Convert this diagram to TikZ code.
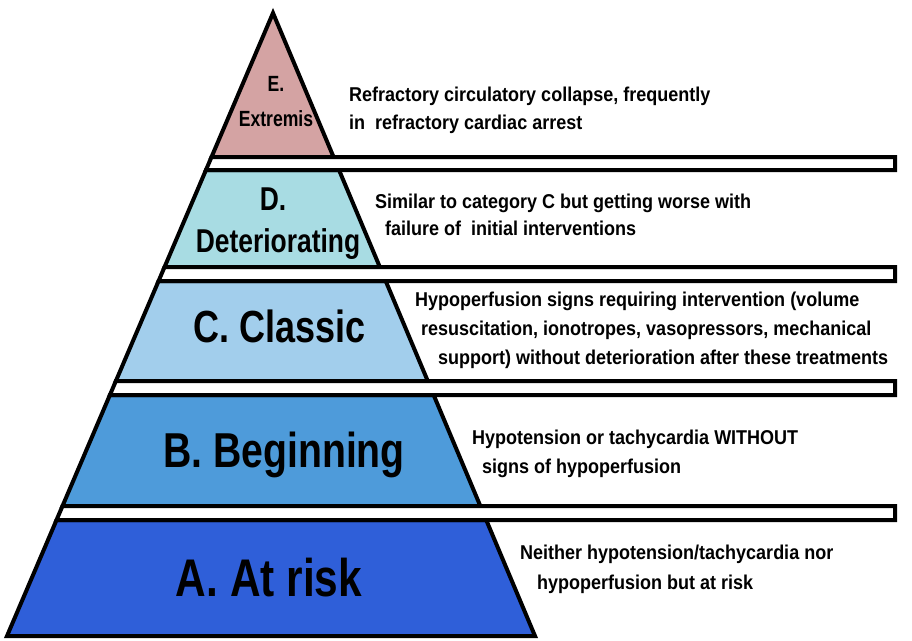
\documentclass[tikz,border=0pt]{standalone}
\usepackage{fontspec}
\setmainfont{Liberation Sans}
\newfontfamily\narrowfont[FakeStretch=0.8]{Liberation Sans}
\newfontfamily\descfont[FakeStretch=0.9]{Liberation Sans}
\usetikzlibrary{positioning}
\definecolor{extremiscolor}{HTML}{D4A3A3}
\definecolor{deterioratingcolor}{HTML}{A8DCE3}
\definecolor{classiccolor}{HTML}{A2CEEC}
\definecolor{beginningcolor}{HTML}{4E9BDA}
\definecolor{atriskcolor}{HTML}{2F5FD9}
% left and right edge of the pyramid at height y
\pgfmathdeclarefunction{lx}{1}{\pgfmathparse{273-(#1-13)/623*266}}
\pgfmathdeclarefunction{rx}{1}{\pgfmathparse{273+(#1-13)/623*262}}
\tikzset{
  layer/.style={line width=4pt, line join=miter},
  gapbar/.style={line width=4pt, fill=white},
  stagelabel/.style={font=\narrowfont\bfseries\fontsize{#1}{#1}\selectfont, inner sep=0pt, anchor=base},
  stagetext/.style={font=\descfont\bfseries\fontsize{20}{24}\selectfont, inner sep=0pt, anchor=base west},
}

\begin{document}
\begin{tikzpicture}[x=1pt, y=-1pt]
    \useasboundingbox (0,0) rectangle (912,640);

    % E. Extremis (top)
    \draw[layer, fill=extremiscolor] (273,13) -- ({rx(157)},157) -- ({lx(157)},157) -- cycle;

    % Lower layers
    \foreach \t/\b/\c in {170/267/deterioratingcolor, 281/381/classiccolor, 395/506/beginningcolor, 520/636/atriskcolor} {
        \draw[layer, fill=\c] ({lx(\t)},\t) -- ({rx(\t)},\t) -- ({rx(\b)},\b) -- ({lx(\b)},\b) -- cycle;
    }

    % White bars between the layers
    \foreach \t/\b in {157/170, 267/281, 381/395, 506/520} {
        \draw[gapbar] ({lx(\t)},\t) -- (895,\t) -- (895,\b) -- ({lx(\b)},\b) -- cycle;
    }

    % Stage labels
    \node[stagelabel=22] (labelE1) at (276,91) {E.};
    \node[stagelabel=22] (labelE2) at (276,126) {Extremis};
    \node[stagelabel=33] (labelD1) at (273,210) {D.};
    \node[stagelabel=33] (labelD2) at (278,252) {Deteriorating};
    \node[stagelabel=45] (labelC) at (280,342) {C. Classic};
    \node[stagelabel=49] (labelB) at (284,467) {B. Beginning};
    \node[stagelabel=53] (labelA) at (269,596) {A. At risk};

    % Descriptions
    \node[stagetext] (textE1) at (349,101) {Refractory circulatory collapse, frequently};
    \node[stagetext] (textE2) at (349,129) {in~ refractory cardiac arrest};
    \node[stagetext] (textD1) at (375,208) {Similar to category C but getting worse with};
    \node[stagetext] (textD2) at (385,235) {failure of~ initial interventions};
    \node[stagetext] (textC1) at (415,306) {Hypoperfusion signs requiring intervention (volume};
    \node[stagetext] (textC2) at (421,335) {resuscitation, ionotropes, vasopressors, mechanical};
    \node[stagetext] (textC3) at (438,364) {support) without deterioration after these treatments};
    \node[stagetext] (textB1) at (472,444) {Hypotension or tachycardia WITHOUT};
    \node[stagetext] (textB2) at (482,473) {signs of hypoperfusion};
    \node[stagetext] (textA1) at (520,559) {Neither hypotension/tachycardia nor};
    \node[stagetext] (textA2) at (537,589) {hypoperfusion but at risk};
\end{tikzpicture}
\end{document}
